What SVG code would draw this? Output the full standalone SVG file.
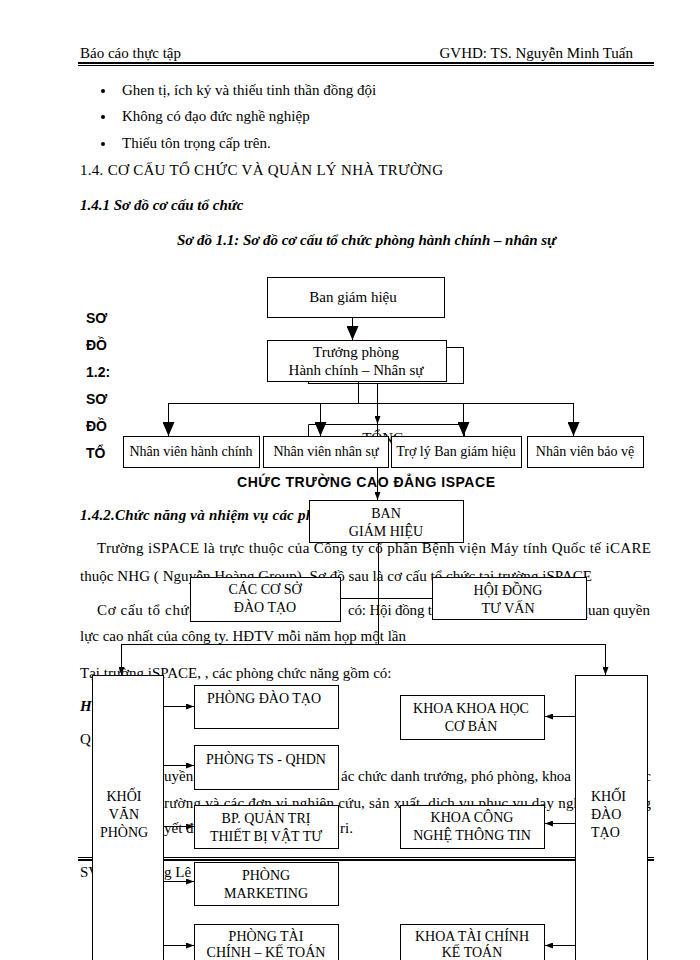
<svg xmlns="http://www.w3.org/2000/svg" width="700" height="960" viewBox="0 0 700 960">
<style>
.t{font-family:"Liberation Serif","Times New Roman",serif;font-size:15px;fill:#000}
.bi{font-weight:bold;font-style:italic}
.d{font-family:"Liberation Serif","Times New Roman",serif;font-size:14px;fill:#000;text-anchor:middle}
.d15{font-size:15px}
.dl{font-family:"Liberation Serif","Times New Roman",serif;font-size:14px;fill:#000}
.s{font-family:"Liberation Sans",Arial,sans-serif;font-weight:bold;font-size:14px;fill:#000}
.box{fill:#fff;stroke:#000;stroke-width:1}
.ln{fill:none;stroke:#000;stroke-width:1}
.rule{fill:#000}
.big{marker-end:url(#ab)}
.sm{marker-end:url(#as)}
</style>
<defs>
<marker id="ab" markerUnits="userSpaceOnUse" markerWidth="14" markerHeight="12" refX="14" refY="6" orient="auto" viewBox="0 0 14 12"><path d="M0,0 L14,6 L0,12 z" fill="#000"/></marker>
<marker id="as" markerUnits="userSpaceOnUse" markerWidth="8" markerHeight="6" refX="8" refY="3" orient="auto" viewBox="0 0 8 6"><path d="M0,0 L8,3 L0,6 z" fill="#000"/></marker>
</defs>
<rect width="700" height="960" fill="#fff"/>

<g id="page-text">
<text class="t" x="80" y="58">Báo cáo thực tập</text>
<text class="t" x="633" y="58" text-anchor="end">GVHD: TS. Nguyễn Minh Tuấn</text>
<rect class="rule" x="78" y="62" width="576" height="2"/>
<rect class="rule" x="78" y="65" width="576" height="1"/>
<circle cx="103" cy="91" r="2" fill="#000"/>
<circle cx="103" cy="117" r="2" fill="#000"/>
<circle cx="103" cy="144" r="2" fill="#000"/>
<text class="t" x="122" y="95">Ghen tị, ích kỷ và thiếu tinh thần đồng đội</text>
<text class="t" x="122" y="121">Không có đạo đức nghề nghiệp</text>
<text class="t" x="122" y="148">Thiếu tôn trọng cấp trên.</text>
<text class="t" x="80" y="175" textLength="363">1.4. CƠ CẤU TỔ CHỨC VÀ QUẢN LÝ NHÀ TRƯỜNG</text>
<text class="t bi" x="80" y="210">1.4.1 Sơ đồ cơ cấu tổ chức</text>
<text class="t bi" x="177" y="245" textLength="379">Sơ đồ 1.1: Sơ đồ cơ cấu tổ chức phòng hành chính – nhân sự</text>
<text class="s" x="86" y="323">SƠ</text>
<text class="s" x="86" y="350">ĐỒ</text>
<text class="s" x="86" y="377">1.2:</text>
<text class="s" x="86" y="404">SƠ</text>
<text class="s" x="86" y="431">ĐỒ</text>
<text class="s" x="86" y="458">TỔ</text>
<text class="t" x="383" y="443" text-anchor="middle">TỔNG</text>
<text class="s" x="237" y="487" textLength="258">CHỨC TRƯỜNG CAO ĐẲNG ISPACE</text>
<text class="t bi" x="80" y="520" textLength="234">1.4.2.Chức năng và nhiệm vụ các ph</text>
<text class="t" x="97" y="553" textLength="554">Trường iSPACE là trực thuộc của Công ty cổ phần Bệnh viện Máy tính Quốc tế iCARE</text>
<text class="t" x="80" y="581" textLength="512">thuộc NHG ( Nguyễn Hoàng Group). Sơ đồ sau là cơ cấu tổ chức tại trường iSPACE</text>
<text class="t" x="97" y="615" textLength="99">Cơ cấu tổ chức</text>
<text class="t" x="348" y="615" textLength="84">có: Hội đồng t</text>
<text class="t" x="650" y="615" text-anchor="end">quan quyền</text>
<text class="t" x="80" y="641">lực cao nhất của công ty. HĐTV mỗi năm họp một lần</text>
<text class="t" x="80" y="678">Tại trường iSPACE, , các phòng chức năng gồm có:</text>
<text class="t bi" x="80" y="711">H</text>
<text class="t" x="80" y="744">Q</text>
<text class="t" x="164" y="781">uyền</text>
<text class="t" x="341" y="781" textLength="230">ác chức danh trưởng, phó phòng, khoa</text>
<text class="t" x="651" y="781" text-anchor="end">c</text>
<text class="t" x="164" y="808" textLength="424">rường và các đơn vị nghiên cứu, sản xuất, dịch vụ phục vụ dạy nghề</text>
<text class="t" x="651" y="808" text-anchor="end">g</text>
<text class="t" x="164" y="833">yết đ</text>
<text class="t" x="340" y="833">ri.</text>
<rect class="rule" x="78" y="857" width="576" height="1"/>
<rect class="rule" x="78" y="859" width="576" height="2"/>
<text class="t" x="80" y="877">SV</text>
<text class="t" x="164" y="877">g Lê</text>
</g>

<g id="connectors">
<path class="ln big" d="M352.5,317 V340"/>
<path class="ln" d="M358.5,381 V403.5"/>
<path class="ln" d="M168,403.5 H573"/>
<path class="ln big" d="M168.5,403 V436"/>
<path class="ln big" d="M320.5,403 V436"/>
<path class="ln big" d="M463.5,403 V436"/>
<path class="ln big" d="M573.5,403 V436"/>
<path class="ln sm" d="M377.5,384 V424"/>
<path class="ln sm" d="M377.5,424 V500"/>
<path class="ln" d="M378.5,542 V645"/>
<path class="ln" d="M340,598.5 H432"/>
<path class="ln" d="M121,644.5 H605.5"/>
<path class="ln sm" d="M121.5,644 V675"/>
<path class="ln sm" d="M605.5,644 V675"/>
<path class="ln sm" d="M163,706.5 H194"/>
<path class="ln sm" d="M163,765.5 H194"/>
<path class="ln sm" d="M163,826.5 H194"/>
<path class="ln sm" d="M163,881.5 H194"/>
<path class="ln sm" d="M163,945.5 H194"/>
<path class="ln sm" d="M575,716.5 H545"/>
<path class="ln sm" d="M575,823.5 H545"/>
<path class="ln sm" d="M575,945.5 H545"/>
</g>

<g id="n-back">
<rect class="ln" x="308.5" y="347.5" width="155" height="36"/>
<path class="ln" d="M308.5,436 V424.5 H464.5 V436"/>
</g>
<g id="n-bgh"><rect class="box" x="267.5" y="277.5" width="177" height="40"/><text class="d d15" x="353" y="302">Ban giám hiệu</text></g>
<g id="n-tp"><rect class="box" x="267.5" y="340.5" width="179" height="41"/><text class="d d15" x="356" y="357">Trưởng phòng</text><text class="d d15" x="356" y="375">Hành chính – Nhân sự</text></g>
<g id="n-nvhc"><rect class="box" x="123.5" y="436.5" width="136" height="31"/><text class="d" x="191" y="456">Nhân viên hành chính</text></g>
<g id="n-nvns"><rect class="box" x="263.5" y="436.5" width="125" height="31"/><text class="d" x="326" y="456">Nhân viên nhân sự</text></g>
<g id="n-tl"><rect class="box" x="391.5" y="436.5" width="130" height="31"/><text class="d" x="456" y="456">Trợ lý Ban giám hiệu</text></g>
<g id="n-nvbv"><rect class="box" x="527.5" y="436.5" width="116" height="31"/><text class="d" x="585" y="456">Nhân viên bảo vệ</text></g>

<g id="n-ban"><rect class="box" x="309.5" y="500.5" width="154" height="42"/><text class="d" x="386" y="518">BAN</text><text class="d" x="386" y="536">GIÁM  HIỆU</text></g>
<g id="n-coso"><rect class="box" x="190.5" y="577.5" width="150" height="44"/><text class="d" x="265" y="594">CÁC  CƠ SỞ</text><text class="d" x="265" y="612">ĐÀO TẠO</text></g>
<g id="n-hd"><rect class="box" x="432.5" y="577.5" width="154" height="42"/><text class="d" x="508" y="595">HỘI ĐỒNG</text><text class="d" x="508" y="613">TƯ  VẤN</text></g>
<g id="n-kvp"><rect class="box" x="92.5" y="675.5" width="71" height="300"/><text class="d" x="124" y="801">KHỐI</text><text class="d" x="124" y="819">VĂN</text><text class="d" x="124" y="837">PHÒNG</text></g>
<g id="n-kdt"><rect class="box" x="575.5" y="675.5" width="72" height="300"/><text class="dl" x="591" y="801">KHỐI</text><text class="dl" x="591" y="819">ĐÀO</text><text class="dl" x="591" y="837">TẠO</text></g>
<g id="n-pdt"><rect class="box" x="194.5" y="685.5" width="144" height="43"/><text class="d" x="264" y="703">PHÒNG ĐÀO TẠO</text></g>
<g id="n-pts"><rect class="box" x="194.5" y="745.5" width="144" height="44"/><text class="d" x="266" y="764">PHÒNG TS - QHDN</text></g>
<g id="n-bp"><rect class="box" x="194.5" y="805.5" width="144" height="43"/><text class="d" x="266" y="823">BP. QUẢN TRỊ</text><text class="d" x="266" y="841">THIẾT BỊ VẬT TƯ</text></g>
<g id="n-mkt"><rect class="box" x="194.5" y="862.5" width="144" height="43"/><text class="d" x="266" y="880">PHÒNG</text><text class="d" x="266" y="898">MARKETING</text></g>
<g id="n-ptc"><rect class="box" x="194.5" y="924.5" width="144" height="50"/><text class="d" x="266" y="941">PHÒNG TÀI</text><text class="d" x="266" y="957">CHÍNH – KẾ TOÁN</text></g>
<g id="n-kcb"><rect class="box" x="400.5" y="695.5" width="144" height="44"/><text class="d" x="471" y="713">KHOA KHOA HỌC</text><text class="d" x="471" y="731">CƠ BẢN</text></g>
<g id="n-kcntt"><rect class="box" x="400.5" y="805.5" width="144" height="43"/><text class="d" x="472" y="822">KHOA  CÔNG</text><text class="d" x="472" y="840">NGHỆ THÔNG  TIN</text></g>
<g id="n-ktc"><rect class="box" x="400.5" y="924.5" width="144" height="50"/><text class="d" x="472" y="941">KHOA TÀI CHÍNH</text><text class="d" x="472" y="957">KẾ TOÁN</text></g>
</svg>
